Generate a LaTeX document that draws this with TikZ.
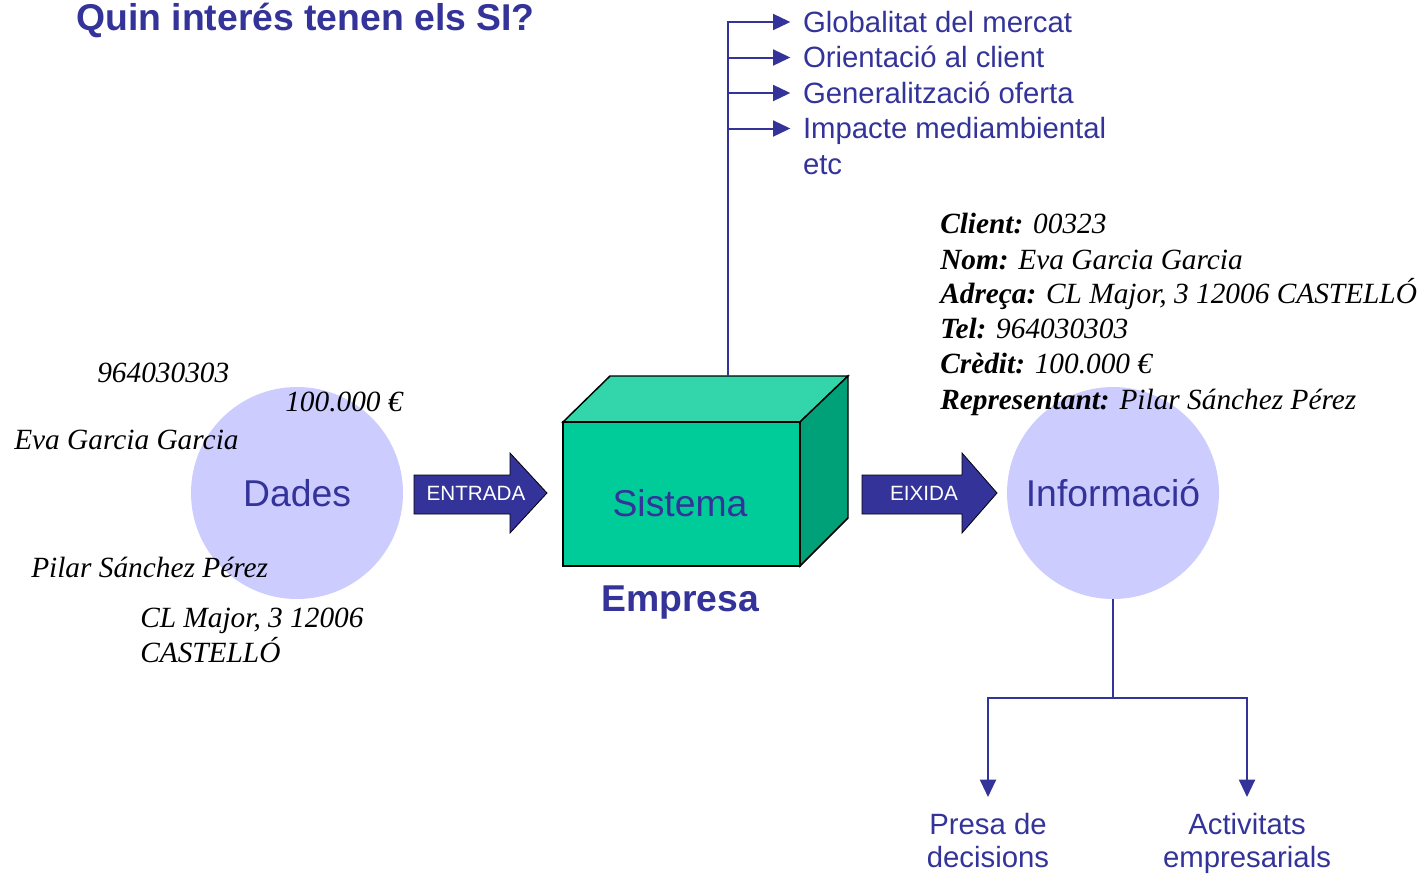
\documentclass[tikz,border=0pt]{standalone}
\usepackage{fontspec}
\setmainfont{Liberation Serif}
\setsansfont{Liberation Sans}
\usetikzlibrary{arrows.meta}
\definecolor{siblue}{RGB}{51,51,153}
\definecolor{lilac}{RGB}{204,204,255}
\definecolor{cubefront}{RGB}{0,204,153}
\definecolor{cubetop}{RGB}{51,214,170}
\definecolor{cubeside}{RGB}{0,160,120}

\begin{document}
\begin{tikzpicture}[x=0.75pt,y=0.75pt,yscale=-1,xscale=1,
  link/.style={draw=siblue,line width=1.5pt},
  branch/.style={link,-{Triangle[length=13pt,width=12pt]}},
  bubble/.style={circle,fill=lilac,minimum size=159pt,inner sep=0pt,text=siblue,
    font=\sffamily\fontsize{28}{30}\selectfont},
  bigword/.style={text=siblue,font=\sffamily\fontsize{28}{30}\selectfont},
  listitem/.style={anchor=west,inner sep=0pt,outer sep=0pt,text=siblue,
    text height=18pt,text depth=3pt,font=\sffamily\fontsize{22}{26}\selectfont},
  goal/.style={anchor=north,inner sep=0pt,outer sep=0pt,align=center,text=siblue,
    font=\sffamily\fontsize{22}{24.75}\selectfont},
  datum/.style={anchor=base west,inner sep=0pt,font=\itshape\fontsize{22}{26}\selectfont},
  blockarrow/.style={fill=siblue,draw=black,line width=0.6pt},
  arrowword/.style={text=white,font=\sffamily\fontsize{15.5}{17}\selectfont}]
\useasboundingbox (0,0) rectangle (1424,875);

% Text Node
\node[anchor=base west,inner sep=0pt,text=siblue,font=\sffamily\bfseries\fontsize{28}{30}\selectfont] (title) at (76,30) {Quin interés tenen els SI?};

%Shape: Circle
\node[bubble] (dades) at (297,493) {Dades};
%Shape: Circle
\node[bubble] (informacio) at (1113,493) {Informació};

% Text Node
\node[datum] (tel) at (97,382) {964030303};
% Text Node
\node[datum] (credit) at (285,411) {100.000 €};
% Text Node
\node[datum] (nom) at (14,449) {Eva Garcia Garcia};
% Text Node
\node[datum] (repr) at (31,577) {Pilar Sánchez Pérez};
% Text Node
\node[datum] (adreca) at (140,627) {CL Major, 3 12006};
% Text Node
\node[datum] (ciutat) at (140,662) {CASTELLÓ};

%Shape: Right Arrow
\draw[blockarrow] (414,475) -- (510,475) -- (510,453) -- (547,493) -- (510,533) -- (510,514) -- (414,514) -- cycle;
\node[arrowword] (entrada) at (476,493) {ENTRADA};
%Shape: Right Arrow
\draw[blockarrow] (862,475) -- (962,475) -- (962,453) -- (997,493) -- (962,533) -- (962,514) -- (862,514) -- cycle;
\node[arrowword] (eixida) at (924,493) {EIXIDA};

%Shape: Cube
\filldraw[fill=cubetop,line width=1.1pt] (563,422) -- (610,376) -- (848,376) -- (800,422) -- cycle;
\filldraw[fill=cubeside,line width=1.1pt] (800,422) -- (848,376) -- (848,518) -- (800,566) -- cycle;
\filldraw[fill=cubefront,line width=1.1pt] (563,422) rectangle (800,566);
\coordinate (boxtop) at (728,376);
% Text Node
\node[bigword] (sistema) at (680,503) {Sistema};
% Text Node
\node[bigword,font=\sffamily\bfseries\fontsize{28}{30}\selectfont] (empresa) at (680,603) {Empresa};

% Text Node
\node[listitem] (mercat) at (803,22) {Globalitat del mercat};
% Text Node
\node[listitem] (client) at (803,57.5) {Orientació al client};
% Text Node
\node[listitem] (oferta) at (803,93) {Generalització oferta};
% Text Node
\node[listitem] (impacte) at (803,128.5) {Impacte mediambiental};
% Text Node
\node[listitem] (etc) at (803,164) {etc};

%Straight Lines
\draw[branch,shorten >=9.5pt] (boxtop) |- (mercat.west);
\draw[branch,shorten >=9.5pt] (boxtop) |- (client.west);
\draw[branch,shorten >=9.5pt] (boxtop) |- (oferta.west);
\draw[branch,shorten >=9.5pt] (boxtop) |- (impacte.west);

% Text Node
\node[datum] (fclient) at (940,233) {\textbf{Client:} 00323};
% Text Node
\node[datum] (fnom) at (940,269) {\textbf{Nom:} Eva Garcia Garcia};
% Text Node
\node[datum] (fadreca) at (940,303) {\textbf{Adreça:} CL Major, 3 12006 CASTELLÓ};
% Text Node
\node[datum] (ftel) at (940,338) {\textbf{Tel:} 964030303};
% Text Node
\node[datum] (fcredit) at (940,373) {\textbf{Crèdit:} 100.000 €};
% Text Node
\node[datum] (frepr) at (940,409) {\textbf{Representant:} Pilar Sánchez Pérez};

% Text Node
\node[goal] (presa) at (988,813) {Presa de\\decisions};
% Text Node
\node[goal] (activitats) at (1247,813) {Activitats\\empresarials};

%Straight Lines
\coordinate (split) at (1113,698);
\draw[link] (informacio.south) -- (split);
\draw[branch,shorten >=12pt] (split) -| (presa.north);
\draw[branch,shorten >=12pt] (split) -| (activitats.north);

\end{tikzpicture}
\end{document}
